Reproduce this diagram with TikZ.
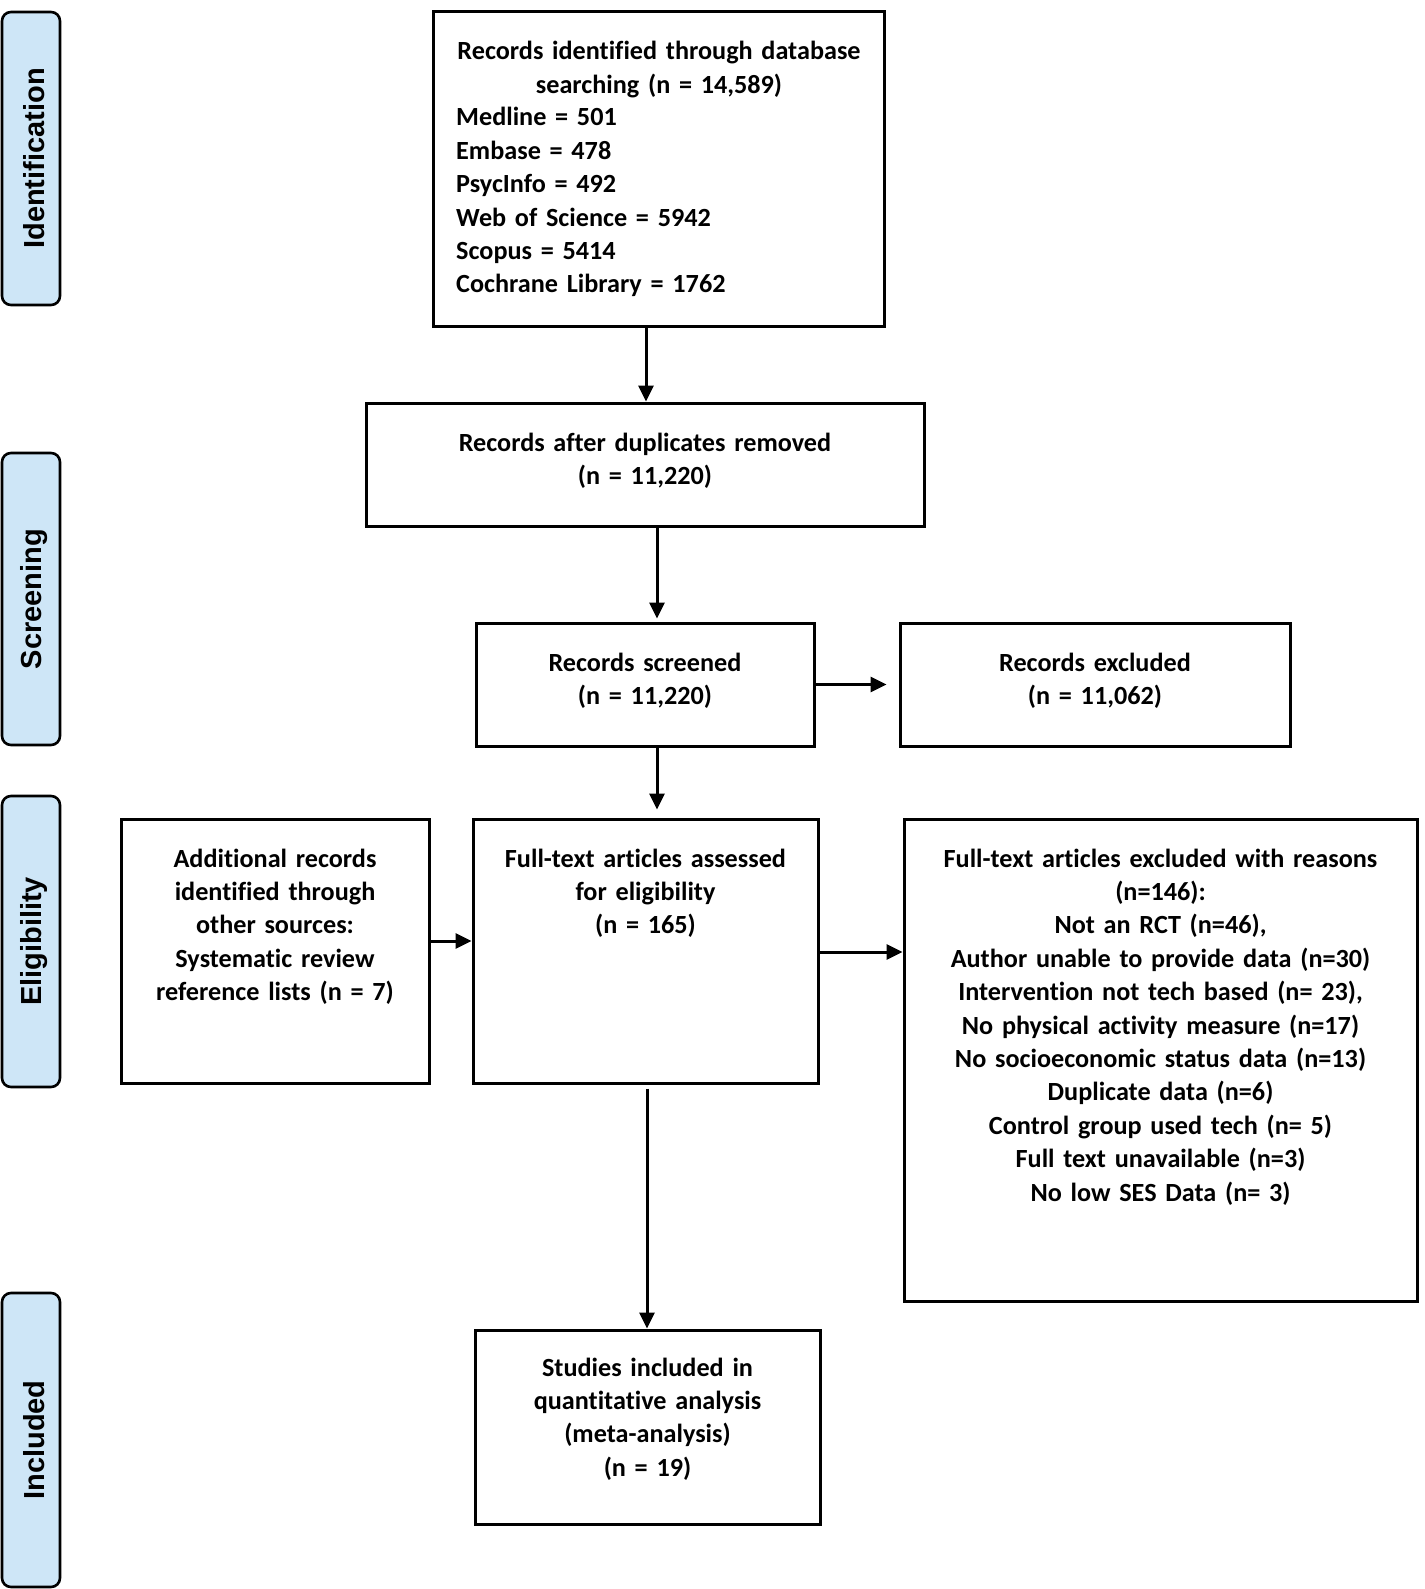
\documentclass[tikz,border=0pt]{standalone}
\usepackage{fontspec}
\setmainfont{Carlito}[Ligatures={NoCommon}]
\newfontfamily\sidefont{Liberation Sans}
\usetikzlibrary{arrows.meta}
\definecolor{sideblue}{RGB}{206,230,247}
\begin{document}
\begin{tikzpicture}[x=1pt,y=-1pt,
 box/.style={draw, line width=3pt, inner sep=0pt},
 side/.style={draw, line width=2.6pt, rounded corners=9pt, fill=sideblue, minimum width=58pt, inner sep=0pt},
 sidetxt/.style={rotate=90, inner sep=0pt, font=\sidefont\bfseries\fontsize{29}{31}\selectfont},
 txt/.style={font=\bfseries\fontsize{26.2}{33.4}\selectfont, align=center, inner sep=0pt, anchor=base},
 ltxt/.style={font=\bfseries\fontsize{26.2}{33.4}\selectfont, align=left, inner sep=0pt, anchor=base west},
 arr/.style={line width=3pt, -{Triangle[length=16pt,width=15pt]}}]
\useasboundingbox (0,0) rectangle (1424,1589);
\fill[white] (0,0) rectangle (1424,1589);

% side bars
\node[side, minimum height=293pt] (s1) at (31,158.5) {};
\node[sidetxt] (s1t) at (34,158.5) {Identification};
\node[side, minimum height=292pt] (s2) at (31,599) {};
\node[sidetxt] (s2t) at (34,599) {Screening};
\node[side, minimum height=291pt] (s3) at (31,941.5) {};
\node[sidetxt] (s3t) at (34,941.5) {Eligibility};
\node[side, minimum height=294pt] (s4) at (31,1440) {};
\node[sidetxt] (s4t) at (34,1440) {Included};

% boxes
\node[box, minimum width=451pt, minimum height=314pt] (b1) at (658.5,169) {};
\node[box, minimum width=558pt, minimum height=123pt] (b2) at (645,464.5) {};
\node[box, minimum width=338pt, minimum height=123pt] (b3) at (645,684.5) {};
\node[box, minimum width=390pt, minimum height=123pt] (ex1) at (1095,684.5) {};
\node[box, minimum width=308pt, minimum height=264pt] (add) at (275,951) {};
\node[box, minimum width=345pt, minimum height=264pt] (ft) at (645.5,951) {};
\node[box, minimum width=513pt, minimum height=482pt] (ex2) at (1160.5,1060) {};
\node[box, minimum width=345pt, minimum height=194pt] (inc) at (647.5,1427) {};

% texts
\node[txt, text width=440pt] (b1t) at (659,60) {Records identified through database\\searching (n = 14,589)};
\node[ltxt, text width=420pt] (b1l) at (456,126) {Medline = 501\\Embase = 478\\PsycInfo = 492\\Web of Science = 5942\\Scopus = 5414\\Cochrane Library = 1762};
\node[txt, text width=540pt] (b2t) at (645,451) {Records after duplicates removed\\(n = 11,220)};
\node[txt, text width=330pt] (b3t) at (645,671) {Records screened\\(n = 11,220)};
\node[txt, text width=380pt] (ex1t) at (1095,671) {Records excluded\\(n = 11,062)};
\node[txt, text width=300pt] (addt) at (275,867) {Additional records\\identified through\\other sources:\\Systematic review\\reference lists (n = 7)};
\node[txt, text width=340pt] (ftt) at (645.5,867) {Full-text articles assessed\\for eligibility\\(n = 165)};
\node[txt, text width=505pt] (ex2t) at (1160.5,867) {Full-text articles excluded with reasons\\(n=146):\\Not an RCT (n=46),\\Author unable to provide data (n=30)\\Intervention not tech based (n= 23),\\No physical activity measure (n=17)\\No socioeconomic status data (n=13)\\Duplicate data (n=6)\\Control group used tech (n= 5)\\Full text unavailable (n=3)\\No low SES Data (n= 3)};
\node[txt, text width=340pt] (inct) at (647.5,1376) {Studies included in\\quantitative analysis\\(meta-analysis)\\(n = 19)};

% connectors
\coordinate (xa) at (646,0);
\coordinate (xb) at (657,0);
\coordinate (xc) at (647,0);
\coordinate (ya) at (0,941);
\coordinate (yb) at (0,952);
\draw[arr] (b1.south -| xa) -- (b2.north -| xa);
\draw[arr, shorten >=3pt] (b2.south -| xb) -- (b3.north -| xb);
\draw[arr, shorten >=12pt] (b3.east) -- (ex1.west);
\draw[arr, shorten >=8pt] (b3.south -| xb) -- (ft.north -| xb);
\draw[arr] (add.east |- ya) -- (ft.west |- ya);
\draw[arr] (ft.east |- yb) -- (ex2.west |- yb);
\draw[arr, shorten <=4pt] (ft.south -| xc) -- (inc.north -| xc);
\end{tikzpicture}
\end{document}
